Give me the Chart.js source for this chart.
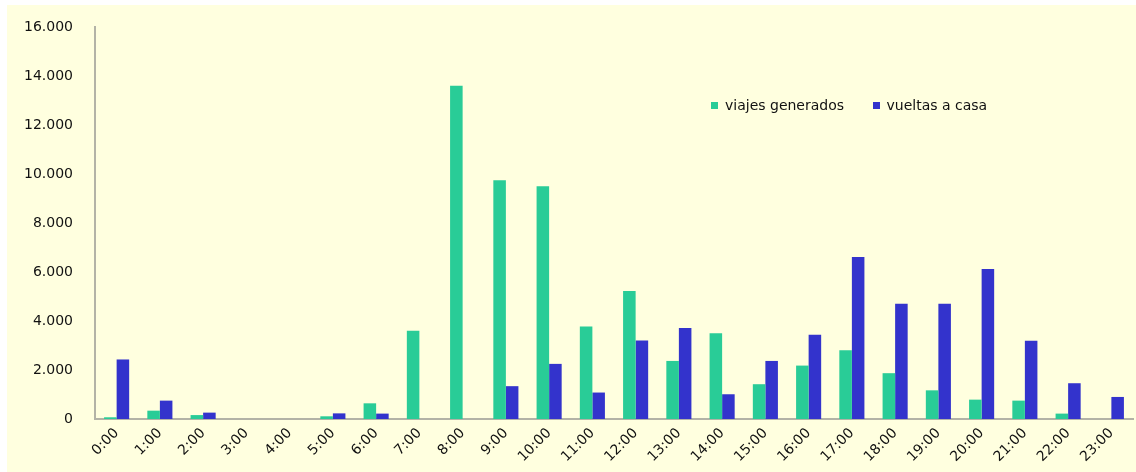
<!DOCTYPE html>
<html>
<head>
<meta charset="utf-8">
<script src="https://cdn.jsdelivr.net/npm/chart.js@4/dist/chart.umd.min.js"></script>
<style>
  body { margin: 0; background: #fff; }
  #wrap { position: absolute; left: 7px; top: 5px; width: 1129px; height: 467px; background: #FFFFDF; }
  #legend { position: absolute; left: 704px; top: 92px; font: 14px "DejaVu Sans", sans-serif; color: #111; white-space: nowrap; }
  #legend span.box { display: inline-block; width: 7px; height: 7px; margin-right: 7px; vertical-align: 1px; }
  #legend span.item { margin-right: 24px; }
</style>
</head>
<body>
<div id="wrap">
  <canvas id="chart" width="1129" height="467"></canvas>
  <div id="legend">
    <span class="item"><span class="box" style="background:#29CC97"></span>viajes generados</span>
    <span class="item"><span class="box" style="background:#3333CC"></span>vueltas a casa</span>
  </div>
</div>
<script>
const hours = ["0:00","1:00","2:00","3:00","4:00","5:00","6:00","7:00","8:00","9:00","10:00","11:00",
  "12:00","13:00","14:00","15:00","16:00","17:00","18:00","19:00","20:00","21:00","22:00","23:00"]

const viajesGenerados = [70, 340, 160, 0, 0, 110, 640, 3600, 13600, 9750, 9500, 3780,
  5220, 2370, 3500, 1420, 2180, 2810, 1870, 1170, 790, 750, 220, 0]

const vueltasACasa = [2430, 750, 260, 0, 0, 230, 220, 0, 0, 1340, 2250, 1080,
  3200, 3710, 1010, 2370, 3440, 6610, 4700, 4700, 6120, 3190, 1460, 900]

const yTicks = [0, 2000, 4000, 6000, 8000, 10000, 12000, 14000, 16000]

const font = { family: "DejaVu Sans", size: 14 }

new Chart("chart", {
  type: "bar",
  data: {
    labels: hours,
    datasets: [
      { label: "viajes generados", data: viajesGenerados, backgroundColor: "#29CC97" },
      { label: "vueltas a casa", data: vueltasACasa, backgroundColor: "#3333CC" }
    ]
  },
  options: {
    responsive: false,
    animation: false,
    layout: { padding: { top: 22, right: 3, left: 0, bottom: 0 } },
    datasets: { bar: { categoryPercentage: 0.58, barPercentage: 1.0 } },
    plugins: { legend: { display: false }, tooltip: { enabled: false } },
    scales: {
      x: {
        grid: { display: false, drawTicks: false },
        border: { color: "#B3B3A6", width: 2 },
        ticks: { color: "#111", font: font, maxRotation: 45, minRotation: 45, padding: 6 },
        afterFit: (scale) => { scale.height = 53; scale.paddingLeft = 0; scale.paddingRight = 0 }
      },
      y: {
        min: 0,
        max: 16000,
        grid: { display: false, drawTicks: false },
        border: { color: "#B3B3A6", width: 2 },
        afterBuildTicks: (scale) => { scale.ticks = yTicks.map(v => ({ value: v })) },
        ticks: {
          color: "#111",
          font: font,
          padding: 22,
          callback: (v) => v.toLocaleString("de-DE")
        },
        afterFit: (scale) => { scale.width = 88; scale.paddingTop = 0; scale.paddingBottom = 0 }
      }
    }
  }
})
</script>
</body>
</html>
